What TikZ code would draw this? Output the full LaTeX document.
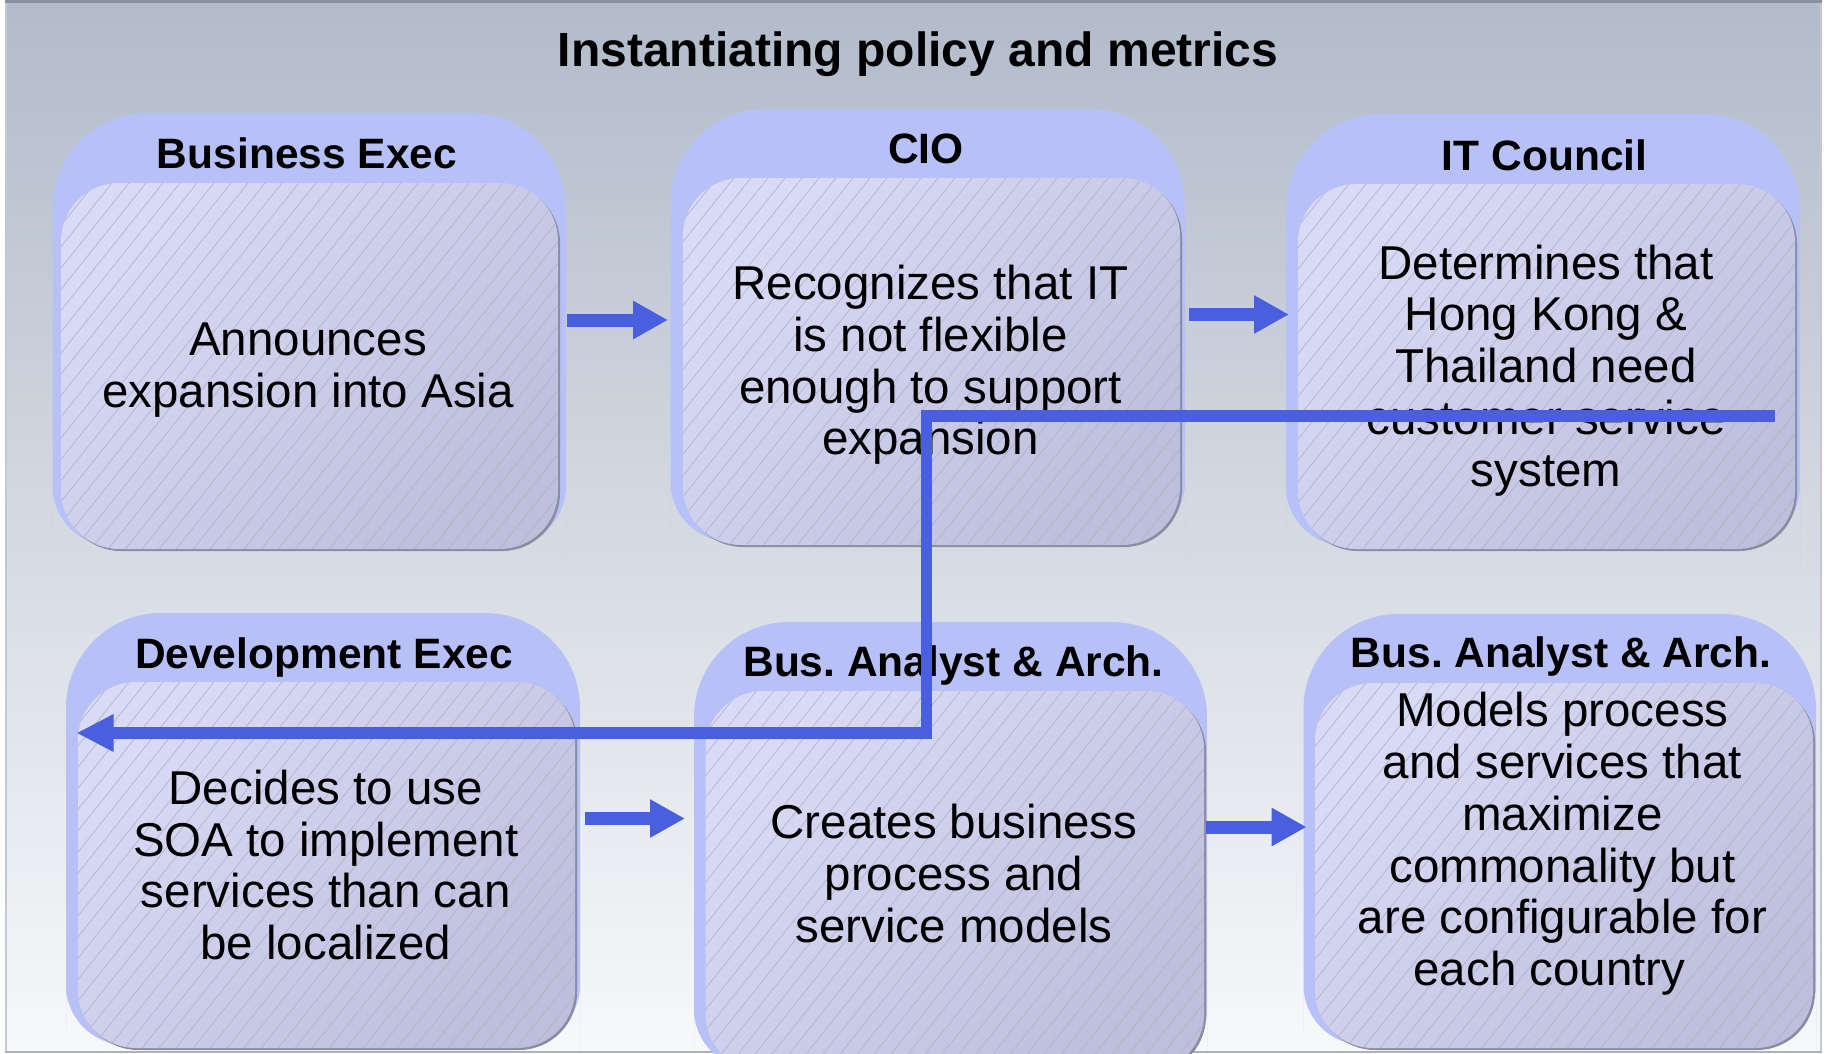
\documentclass[tikz,border=0pt]{standalone}
\usepackage{fontspec}
\setmainfont{Liberation Sans}
\usetikzlibrary{arrows.meta}
\frenchspacing
\definecolor{outerblue}{HTML}{B8C0F8}
\definecolor{innerlight}{HTML}{D8DAF6}
\definecolor{innerdark}{HTML}{BDBFDC}
\definecolor{shadowgray}{HTML}{8A8CA2}
\definecolor{hatchgray}{HTML}{B0B2CA}
\definecolor{arrowblue}{HTML}{4A5EE0}
\definecolor{bgtop}{HTML}{B2BBCA}
\definecolor{bgbot}{HTML}{F7F8FA}
\definecolor{framegray}{HTML}{8A909B}
\definecolor{edgegray}{HTML}{C4C9D1}

\tikzset{
  titletext/.style={font=\fontsize{48}{52}\selectfont\bfseries, anchor=base, inner sep=0pt},
  headtext/.style={font=\fontsize{42.5}{46}\selectfont\bfseries, anchor=base, inner sep=0pt},
  bodytext/.style={font=\fontsize{47.5}{51.8}\selectfont, align=center, anchor=center, inner sep=0pt},
  blockarrow/.style={arrowblue, line width=13pt, -{Triangle[length=35pt,width=36pt]}},
  connector/.style={arrowblue, line width=11.5pt, line join=miter, -{Triangle[length=37pt,width=35pt]}},
  hatchline/.style={hatchgray, line width=0.6pt},
}

% outer header box: L T R B
\newcommand{\outerbox}[4]{%
  \fill[outerblue, rounded corners=95pt] (#1,{#4-75}) -- (#1,#2) -- (#3,#2) -- (#3,{#4-75})
    [rounded corners=60pt] -- (#3,{#4-3}) -- (#1,{#4-3}) -- cycle;
}
% inner hatched box: L T R B
\newcommand{\innerbox}[4]{%
  \fill[shadowgray, rounded corners=58pt] ({#1+2},{#2+2}) rectangle ({#3+2},{#4+2});
  \shade[rounded corners=58pt, top color=innerlight, bottom color=innerdark, shading angle=45]
    (#1,#2) rectangle (#3,#4);
  \begin{scope}
    \clip[rounded corners=58pt] (#1,#2) rectangle (#3,#4);
    \foreach \k in {0,...,50} {
      \draw[hatchline] ({#1-0.8*(#4-#2)+\k*17},#4) -- ++({0.8*(#4-#2)},{-(#4-#2)});
    }
  \end{scope}
}

\begin{document}
\begin{tikzpicture}[x=1pt,y=-1pt]
\useasboundingbox (0,0) rectangle (1831,1054);
\clip (0,0) rectangle (1831,1054);
\fill[white] (0,0) rectangle (1831,1054);

% background panel
\shade[top color=bgtop, bottom color=bgbot] (5,3) rectangle (1822,1051);
\draw[edgegray, line width=2pt] (6,3) -- (6,1051);
\draw[edgegray, line width=2pt] (1821,3) -- (1821,1051);
\draw[framegray, line width=3pt] (5,1.5) -- (1822,1.5);
\draw[framegray!70, line width=2pt] (5,1052) -- (1822,1052);

% outer boxes
\outerbox{52.5}{113}{566}{549}
\outerbox{670.5}{109}{1185}{545}
\outerbox{1286}{114}{1800}{549}
\outerbox{66}{613}{580}{1048}
\outerbox{694}{622}{1207}{1072}
\outerbox{1303.5}{614}{1816}{1048}

% inner boxes
\innerbox{61}{183}{558}{549}
\innerbox{683}{178}{1180}{545}
\innerbox{1298}{184}{1795}{549}
\innerbox{78}{682}{575}{1048}
\innerbox{705.5}{691}{1204}{1072}
\innerbox{1315}{683}{1813}{1048}

% title
\node[titletext] (title) at (918,67) {Instantiating policy and metrics};

% headers
\node[headtext] (h1) at (307,168) {Business Exec};
\node[headtext] (h2) at (926,164) {CIO};
\node[headtext] (h3) at (1544.6,170.5) {IT Council};
\node[headtext] (h4) at (324,668) {Development Exec};
\node[headtext] (h5) at (953.5,676) {Bus. Analyst \& Arch.};
\node[headtext] (h6) at (1561,667.5) {Bus. Analyst \& Arch.};

% body texts
\node[bodytext] (t1) at (308,370) {Announces\\expansion into Asia};
\node[bodytext] (t2) at (930.5,365) {Recognizes that IT\\is not flexible\\enough to support\\expansion};
\node[bodytext] (t3) at (1546,370.5) {Determines that\\Hong Kong \&\\Thailand need\\customer service\\system};
\node[bodytext] (t4) at (325.8,865) {Decides to use\\SOA to implement\\services than can\\be localized};
\node[bodytext] (t5) at (954,873.5) {Creates business\\process and\\service models};
\node[bodytext] (t6) at (1562.4,844) {Models process\\and services that\\maximize\\commonality but\\are configurable for\\each country\hspace*{26pt}};

% block arrows
\coordinate (a1s) at (567,320);    \coordinate (a1e) at (668,320);
\coordinate (a2s) at (1189,314.5); \coordinate (a2e) at (1289,314.5);
\coordinate (a3s) at (585,818.5);  \coordinate (a3e) at (685,818.5);
\coordinate (a4s) at (1205.6,827); \coordinate (a4e) at (1306.6,827);
\draw[blockarrow] (a1s) -- (a1e);
\draw[blockarrow] (a2s) -- (a2e);
\draw[blockarrow] (a3s) -- (a3e);
\draw[blockarrow] (a4s) -- (a4e);

% connector
\coordinate (cstart) at (1775,416);
\coordinate (cbend) at (926.5,733);
\coordinate (cend) at (76.5,733);
\draw[connector] (cstart) -| (cbend) -- (cend);
\end{tikzpicture}
\end{document}
